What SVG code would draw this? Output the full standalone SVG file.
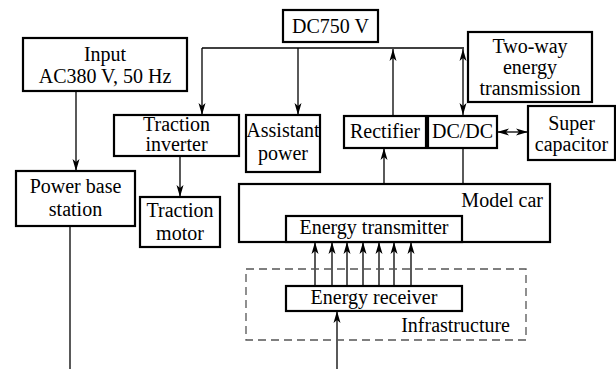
<svg xmlns="http://www.w3.org/2000/svg" width="616" height="369" viewBox="0 0 616 369">
<defs>
<marker id="ah" viewBox="0 0 12 8" refX="12" refY="4" markerWidth="12" markerHeight="8" markerUnits="userSpaceOnUse" orient="auto-start-reverse">
<path d="M0,0.5 L12,4 L0,7.5 L3,4 z" fill="#000"/>
</marker>
</defs>
<style>
.box{fill:#fff;stroke:#000;stroke-width:2.2}
.dash{fill:none;stroke:#555;stroke-width:1.3;stroke-dasharray:8 5}
.ln{fill:none;stroke:#000;stroke-width:1.3}
.ar{fill:none;stroke:#000;stroke-width:1.3;marker-end:url(#ah)}
.da{fill:none;stroke:#000;stroke-width:1.3;marker-start:url(#ah);marker-end:url(#ah)}
text{font-family:"Liberation Serif","Times New Roman",serif;font-size:20px;fill:#000;text-anchor:middle}
.r{text-anchor:end}
</style>
<rect width="616" height="369" fill="#fff"/>
<g id="connectors">
<path class="ln" d="M202,48 H464"/>
<path class="ar" d="M202,48 V115"/>
<path class="ar" d="M298,48 V115"/>
<path class="ar" d="M393,116 V49"/>
<path class="da" d="M463,49 V115"/>
<path class="da" d="M497,132 H528"/>
<path class="ar" d="M76,91 V171"/>
<path class="ln" d="M70,226 V369"/>
<path class="ar" d="M180,156 V197"/>
<path class="ar" d="M384,184 V148"/>
<path class="ln" d="M463,148 V184"/>
<path class="ar" d="M315,286 V242"/>
<path class="ar" d="M332,286 V242"/>
<path class="ar" d="M347,286 V242"/>
<path class="ar" d="M363,286 V242"/>
<path class="ar" d="M379,286 V242"/>
<path class="ar" d="M394,286 V242"/>
<path class="ar" d="M411,286 V242"/>
<path class="ar" d="M337,369 V311"/>
</g>
<g id="dc750">
<rect class="box" x="283" y="10" width="95" height="32"/>
<text x="330.5" y="33">DC750 V</text>
</g>
<g id="input">
<rect class="box" x="23" y="38" width="164" height="53"/>
<text x="105" y="61">Input</text>
<text x="105" y="83">AC380 V, 50 Hz</text>
</g>
<g id="traction-inverter">
<rect class="box" x="114" y="115" width="125" height="41"/>
<text x="176.5" y="131">Traction</text>
<text x="176.5" y="151">inverter</text>
</g>
<g id="assistant-power">
<rect class="box" x="246" y="115" width="74" height="57"/>
<text x="283" y="137">Assistant</text>
<text x="283" y="160">power</text>
</g>
<g id="rectifier">
<rect class="box" x="344" y="116" width="82" height="32"/>
<text x="385" y="138">Rectifier</text>
</g>
<g id="dcdc">
<rect class="box" x="428" y="116" width="69" height="32"/>
<text x="462.5" y="138">DC/DC</text>
</g>
<g id="two-way">
<rect class="box" x="468" y="32" width="124" height="70"/>
<text x="530" y="53">Two-way</text>
<text x="530" y="74">energy</text>
<text x="530" y="95">transmission</text>
</g>
<g id="super-capacitor">
<rect class="box" x="528" y="106" width="87" height="54"/>
<text x="571.5" y="130">Super</text>
<text x="571.5" y="151">capacitor</text>
</g>
<g id="power-base-station">
<rect class="box" x="16" y="171" width="119" height="55"/>
<text x="75.5" y="193">Power base</text>
<text x="75.5" y="216">station</text>
</g>
<g id="traction-motor">
<rect class="box" x="140" y="197" width="80" height="50"/>
<text x="180" y="217">Traction</text>
<text x="180" y="240">motor</text>
</g>
<g id="model-car">
<rect class="box" x="239" y="184" width="311" height="58"/>
<text class="r" x="543" y="207">Model car</text>
</g>
<g id="energy-transmitter">
<rect class="box" x="286" y="216" width="176" height="26"/>
<text x="374" y="234">Energy transmitter</text>
</g>
<g id="infrastructure">
<rect class="dash" x="246" y="269" width="280" height="71"/>
<text class="r" x="510" y="332">Infrastructure</text>
</g>
<g id="energy-receiver">
<rect class="box" x="286" y="286" width="176" height="25"/>
<text x="374" y="304">Energy receiver</text>
</g>
</svg>
